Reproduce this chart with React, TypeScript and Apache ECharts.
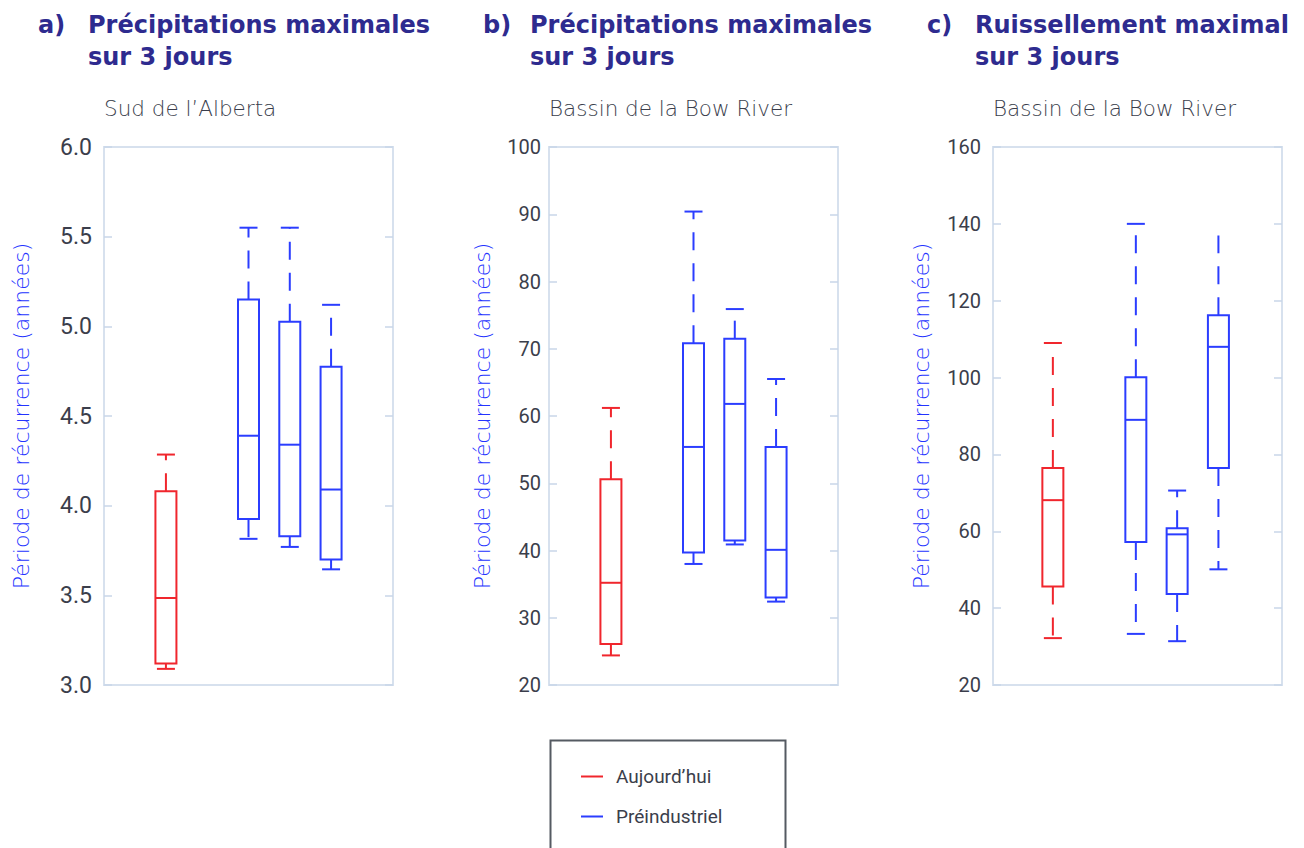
import React, { useEffect, useRef } from "react";
import * as echarts from "echarts";

// ---------- data ----------
const seriesNames = ["Aujourd’hui", "Préindustriel"];
const boxGroup = [0, 1, 1, 1]; // 0 = Aujourd'hui, 1 = Préindustriel

// Panel a — Précipitations maximales sur 3 jours, Sud de l'Alberta
const xPosA = [1.5, 3.5, 4.5, 5.5];
const lowA = [3.09, 3.815, 3.77, 3.645];
const q1A = [3.12, 3.925, 3.83, 3.7];
const medA = [3.485, 4.39, 4.34, 4.09];
const q3A = [4.08, 5.15, 5.025, 4.775];
const highA = [4.285, 5.55, 5.55, 5.12];
const capTopA = [1, 1, 1, 1];

// Panel b — Précipitations maximales sur 3 jours, Bassin de la Bow River
const xPosB = [1.5, 3.5, 4.5, 5.5];
const lowB = [24.4, 38.0, 40.9, 32.4];
const q1B = [26.1, 39.7, 41.5, 33.0];
const medB = [35.2, 55.4, 61.8, 40.1];
const q3B = [50.6, 70.8, 71.5, 55.4];
const highB = [61.2, 90.4, 75.9, 65.5];
const capTopB = [1, 1, 1, 1];

// Panel c — Ruissellement maximal sur 3 jours, Bassin de la Bow River
const xPosC = [1.45, 3.46, 4.46, 5.46];
const lowC = [32.2, 33.3, 31.4, 50.1];
const q1C = [45.6, 57.2, 43.7, 76.5];
const medC = [68.1, 89.0, 59.2, 108.0];
const q3C = [76.5, 100.1, 60.8, 116.2];
const highC = [109.0, 140.0, 70.6, 137.0];
const capTopC = [1, 1, 1, 0];

// axis ranges [min, max, interval]
const yRangeA = [3, 6, 0.5];
const yRangeB = [20, 100, 10];
const yRangeC = [20, 160, 20];

const panelLetters = ["a)", "b)", "c)"];
const panelTitles = [
  "Précipitations maximales\nsur 3 jours",
  "Précipitations maximales\nsur 3 jours",
  "Ruissellement maximal\nsur 3 jours",
];
const panelSubtitles = ["Sud de l’Alberta", "Bassin de la Bow River", "Bassin de la Bow River"];
const yAxisName = "Période de récurrence (années)";

// ---------- styles ----------
const RED = "#f0262d";
const BLUE = "#2b3dff";
const TITLE_COLOR = "#2e2b8f";
const LABEL_COLOR = "#3b3e4b";
const FRAME = "#d7e1ee";
const TICK = "#c9d6e8";
const BOX_W = 21;
const CAP_W = 18;

const panels = [
  { x: xPosA, lo: lowA, q1: q1A, md: medA, q3: q3A, hi: highA, cap: capTopA, range: yRangeA, left: 104, labelSize: 23, labelMargin: 12, nameGap: 72, dec: 1 },
  { x: xPosB, lo: lowB, q1: q1B, md: medB, q3: q3B, hi: highB, cap: capTopB, range: yRangeB, left: 549, labelSize: 20, labelMargin: 8, nameGap: 56, dec: 0 },
  { x: xPosC, lo: lowC, q1: q1C, md: medC, q3: q3C, hi: highC, cap: capTopC, range: yRangeC, left: 993, labelSize: 20, labelMargin: 12, nameGap: 61, dec: 0 },
];

function makeRenderItem(color: string) {
  return (params: any, api: any) => {
    const x = api.value(0);
    const pLo = api.coord([x, api.value(1)]);
    const pQ1 = api.coord([x, api.value(2)]);
    const pMd = api.coord([x, api.value(3)]);
    const pQ3 = api.coord([x, api.value(4)]);
    const pHi = api.coord([x, api.value(5)]);
    const capTop = api.value(6);
    const cx = pMd[0];
    const hw = BOX_W / 2;
    const cw = CAP_W / 2;
    const solid = { stroke: color, lineWidth: 2, fill: "none" };
    const dashed = { stroke: color, lineWidth: 2, lineDash: [18, 13] };
    const children: any[] = [
      { type: "rect", shape: { x: cx - hw, y: pQ3[1], width: BOX_W, height: pQ1[1] - pQ3[1] }, style: solid },
      { type: "line", shape: { x1: cx - hw, y1: pMd[1], x2: cx + hw, y2: pMd[1] }, style: solid },
      { type: "line", shape: { x1: cx, y1: pQ3[1], x2: cx, y2: pHi[1] }, style: dashed },
      { type: "line", shape: { x1: cx, y1: pQ1[1], x2: cx, y2: pLo[1] }, style: dashed },
      { type: "line", shape: { x1: cx - cw, y1: pLo[1], x2: cx + cw, y2: pLo[1] }, style: solid },
    ];
    if (capTop) {
      children.push({ type: "line", shape: { x1: cx - cw, y1: pHi[1], x2: cx + cw, y2: pHi[1] }, style: solid });
    }
    return { type: "group", children };
  };
}

export default function App() {
  const ref = useRef<HTMLDivElement>(null);
  useEffect(() => {
    if (!ref.current) return;
    const chart = echarts.init(ref.current, null, { renderer: "svg" });

    const grid: any[] = [];
    const xAxis: any[] = [];
    const yAxis: any[] = [];
    const series: any[] = [];
    const title: any[] = [];

    panels.forEach((p, i) => {
      grid.push({ left: p.left, top: 147, width: 289, height: 538, show: true, borderColor: FRAME, borderWidth: 2, backgroundColor: "transparent" });
      xAxis.push({ type: "value", gridIndex: i, min: 0, max: 7, show: false });
      const base = {
        type: "value",
        gridIndex: i,
        min: p.range[0],
        max: p.range[1],
        interval: p.range[2],
        splitLine: { show: false },
        axisLine: { show: false },
        axisTick: { show: true, inside: true, length: 8, lineStyle: { color: TICK, width: 1.5 } },
      };
      yAxis.push({
        ...base,
        position: "left",
        axisLabel: {
          fontSize: p.labelSize,
          color: LABEL_COLOR,
          fontFamily: "Roboto",
          margin: p.labelMargin,
          formatter: (v: number) => v.toFixed(p.dec),
        },
        name: yAxisName,
        nameLocation: "middle",
        nameGap: p.nameGap,
        nameTextStyle: { color: "#2433ff", fontSize: 22, fontFamily: "DejaVu Sans", fontWeight: 300 },
      });
      yAxis.push({ ...base, position: "right", axisLabel: { show: false } });

      [0, 1].forEach((g) => {
        const data: any[] = [];
        p.x.forEach((xv, k) => {
          if (boxGroup[k] === g) data.push([xv, p.lo[k], p.q1[k], p.md[k], p.q3[k], p.hi[k], p.cap[k]]);
        });
        const color = g === 0 ? RED : BLUE;
        series.push({
          type: "custom",
          name: seriesNames[g],
          xAxisIndex: i,
          yAxisIndex: i * 2,
          itemStyle: { color },
          encode: { x: 0, y: [1, 2, 3, 4, 5] },
          renderItem: makeRenderItem(color),
          data,
        });
      });

      const letterLeft = [38, 483, 927][i];
      const textLeft = [88, 530, 975][i];
      const titleStyle = { color: TITLE_COLOR, fontSize: 24, fontWeight: "bold", fontFamily: "DejaVu Sans", lineHeight: 32 };
      title.push({ text: panelLetters[i], left: letterLeft, top: 9, padding: 0, textStyle: titleStyle });
      title.push({ text: panelTitles[i], left: textLeft, top: 9, padding: 0, textStyle: titleStyle });
      title.push({ text: panelSubtitles[i], left: p.left, top: 96, padding: 0, textStyle: { color: "#3a3e4c", fontSize: 21.5, fontWeight: 300, fontFamily: "DejaVu Sans", lineHeight: 24 } });
    });

    chart.setOption({
      animation: false,
      backgroundColor: "#ffffff",
      title,
      grid,
      xAxis,
      yAxis,
      series,
      legend: {
        orient: "vertical",
        left: 576,
        top: 762,
        icon: "rect",
        itemWidth: 22,
        itemHeight: 2,
        itemGap: 21,
        textStyle: { fontSize: 19, color: LABEL_COLOR, fontFamily: "Roboto", padding: [0, 0, 0, 8] },
        data: [
          { name: seriesNames[0], itemStyle: { color: RED } },
          { name: seriesNames[1], itemStyle: { color: BLUE } },
        ],
      },
      graphic: [
        { type: "rect", left: 548, top: 738, shape: { width: 235, height: 140 }, style: { fill: "none", stroke: "#555a62", lineWidth: 2 }, z: -1 },
      ],
    });
    return () => chart.dispose();
  }, []);
  return <div ref={ref} style={{ position: "fixed", left: 0, top: 0, width: 1304, height: 848 }} />;
}
